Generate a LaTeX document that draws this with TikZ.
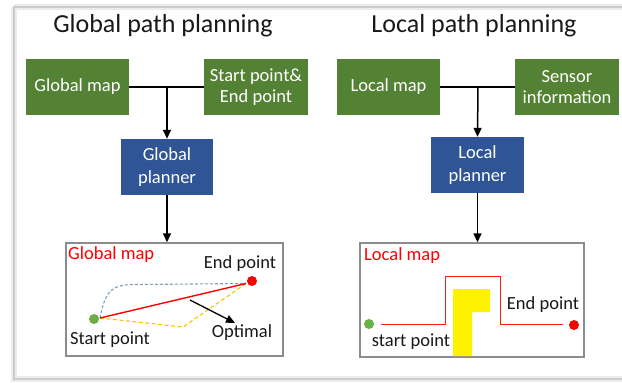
\documentclass[tikz,border=0pt]{standalone}
\usepackage{fontspec}
\setmainfont{Carlito}
\usetikzlibrary{arrows.meta}
\definecolor{boxgreen}{HTML}{548235}
\definecolor{boxblue}{HTML}{2F5597}
\definecolor{dotgreen}{HTML}{70AD47}
\definecolor{dashblue}{HTML}{7F9FBF}
\definecolor{dashyellow}{HTML}{FFC000}
\tikzset{
  gbox/.style={fill=boxgreen, text=white, minimum width=103pt, minimum height=56pt, inner sep=1pt, align=center, font=\fontsize{18.5}{21}\selectfont},
  bbox/.style={fill=boxblue, text=white, minimum width=92pt, minimum height=56pt, inner sep=1pt, align=center, font=\fontsize{18.5}{23}\selectfont},
  mapbox/.style={draw=gray!90, line width=1.4pt, fill=white},
  ttl/.style={font=\fontsize{26}{29}\selectfont, text=black!90},
  lbl/.style={font=\fontsize{18.5}{21}\selectfont, inner sep=0pt, text=black!90},
  redlbl/.style={font=\fontsize{18.5}{21}\selectfont, inner sep=0pt, text=red},
  conn/.style={line width=1.5pt, black},
  arr/.style={line width=1.5pt, black, -{Triangle[length=9pt,width=8pt]}},
  dotg/.style={circle, fill=dotgreen, minimum size=10pt, inner sep=0pt},
  dotr/.style={circle, fill=red, minimum size=10pt, inner sep=0pt},
}
\begin{document}
\begin{tikzpicture}[x=1pt,y=-1pt]
\useasboundingbox (0,0) rectangle (622,383);
\fill[white] (0,0) rectangle (622,383);
% frame
\draw[gray!15, line width=6pt] (14,7) -- (630,7);
\draw[gray!15, line width=6pt] (14,7) -- (14,379) -- (630,379);
\draw[gray!40, line width=2pt] (630,7) -- (14,7) -- (14,379) -- (630,379);

% titles
\node[ttl] (t1) at (163,26) {Global path planning};
\node[ttl] (t2) at (474,26) {Local path planning};

% global side
\node[gbox] (gm) at (77.5,87) {Global map};
\node[gbox, minimum width=104pt] (sp) at (256,87) {Start point\&\\End point};
\node[bbox] (gp) at (167,167) {Global\\planner};
\coordinate (gj) at (167,87);
\draw[conn] (gm.east) -- (sp.west);
\draw[arr] (gj) -- (gp.north);

\node[mapbox, minimum width=217pt, minimum height=113pt] (gmap) at (174.5,299.5) {};
\draw[arr] (gp.south) -- (gp.south |- gmap.north);

\node[redlbl, anchor=west] (gml) at (68,255) {Global map};
\node[lbl] (gep) at (240,264) {End point};
\node[lbl] (gopt) at (242,333) {Optimal};
\node[lbl] (gst) at (110,340) {Start point};
\node[dotg] (gs) at (94,319) {};
\node[dotr] (ge) at (252,281) {};
\coordinate (gsa) at (100,318);
\coordinate (gea) at (246,283.5);
\coordinate (gyk) at (183,327);
\coordinate (ga1) at (190,300);
\coordinate (ga2) at (235,323);
\draw[dashblue, line width=1.1pt, dash pattern=on 3pt off 2pt] (gsa) .. controls (106,286) and (115,284.5) .. (140,284.5) -- (gea);
\draw[dashyellow, line width=1.1pt, dash pattern=on 4pt off 2.5pt] (gsa) -- (gyk) -- (gea);
\draw[red, line width=1.4pt] (gsa) -- (gea);
\draw[line width=1.3pt, -{Triangle[length=9pt,width=8pt]}] (ga1) -- (ga2);

% local side
\node[gbox] (lm) at (388.5,87) {Local map};
\node[gbox, minimum width=104pt] (si) at (567,87) {Sensor\\information};
\node[bbox, minimum width=93pt] (lp) at (477.5,165) {Local\\planner};
\coordinate (lj) at (478,87);
\draw[conn] (lm.east) -- (si.west);
\draw[arr] (lj) -- (lp.north);

\node[mapbox, minimum width=224pt, minimum height=114pt] (lmap) at (472,300) {};
\draw[arr] (lp.south) -- (lp.south |- lmap.north);

\fill[yellow] (453,289) -- (490,289) -- (490,312) -- (472,312) -- (472,356) -- (453,356) -- cycle;
\node[redlbl, anchor=west] (lml) at (364,256) {Local map};
\node[lbl] (lep) at (543,305) {End point};
\node[lbl] (lst) at (411,342) {start point};
\node[dotg] (ls) at (369,324) {};
\node[dotr] (le) at (574,325) {};
\coordinate (lpa) at (381,324);
\coordinate (lpb) at (563,324);
\draw[red!90, line width=1pt] (lpa) -- (445,324) -- (445,276) -- (500,276) -- (500,324) -- (lpb);
\end{tikzpicture}
\end{document}
